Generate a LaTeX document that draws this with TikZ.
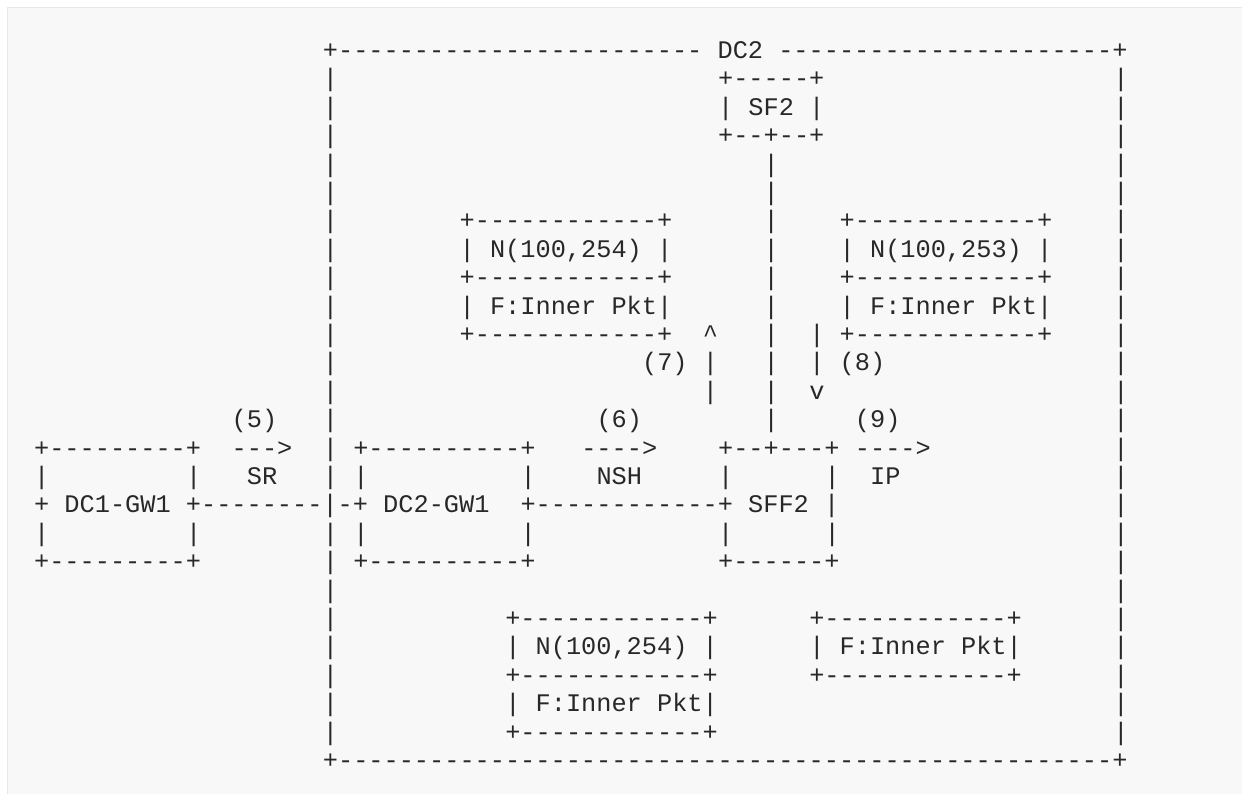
\documentclass[tikz,border=0pt]{standalone}
\usepackage{fontspec}
\setmonofont{Liberation Mono}
\definecolor{ink}{RGB}{40,40,40}
\definecolor{pagebg}{RGB}{248,248,248}
\definecolor{pageedge}{RGB}{232,232,232}
\newcommand\xo{41.7}
\newcommand\cw{15.2}
\newcommand\yo{58.5}
\newcommand\rh{28.4}
% \ch{row}{col}{text}: one run of characters on the character grid
\newcommand\ch[3]{\node[asc] (r#1c#2) at ({\xo+(#2-0.5)*\cw},{-(\yo+#1*\rh)}) {#3};}
\tikzset{
  asc/.style={anchor=base west, inner sep=0pt, outer sep=0pt, text=ink,
    font=\ttfamily\frenchspacing\fontsize{25.3}{28}\selectfont}
}
\begin{document}
\begin{tikzpicture}[x=1pt,y=1pt]
\useasboundingbox (0,0) rectangle (1242,-794);
\fill[white] (0,0) rectangle (1242,-794);
\filldraw[fill=pagebg, draw=pageedge, line width=1.5pt] (7.5,-7.5) rectangle (1260,-810);
% row 0
\ch{0}{19}{+------------------------ DC2 ----------------------+}
% rows 1-5
\ch{1}{19}{|}\ch{1}{45}{+-----+}\ch{1}{71}{|}
\ch{2}{19}{|}\ch{2}{45}{| SF2 |}\ch{2}{71}{|}
\ch{3}{19}{|}\ch{3}{45}{+--+--+}\ch{3}{71}{|}
\ch{4}{19}{|}\ch{4}{48}{|}\ch{4}{71}{|}
\ch{5}{19}{|}\ch{5}{48}{|}\ch{5}{71}{|}
% rows 6-10
\ch{6}{19}{|}\ch{6}{28}{+------------+}\ch{6}{48}{|}\ch{6}{53}{+------------+}\ch{6}{71}{|}
\ch{7}{19}{|}\ch{7}{28}{| N(100,254) |}\ch{7}{48}{|}\ch{7}{53}{| N(100,253) |}\ch{7}{71}{|}
\ch{8}{19}{|}\ch{8}{28}{+------------+}\ch{8}{48}{|}\ch{8}{53}{+------------+}\ch{8}{71}{|}
\ch{9}{19}{|}\ch{9}{28}{| F:Inner Pkt|}\ch{9}{48}{|}\ch{9}{53}{| F:Inner Pkt|}\ch{9}{71}{|}
\ch{10}{19}{|}\ch{10}{28}{+------------+}\ch{10}{44}{\textasciicircum}\ch{10}{48}{|}\ch{10}{51}{|}\ch{10}{53}{+------------+}\ch{10}{71}{|}
% rows 11-13
\ch{11}{19}{|}\ch{11}{40}{(7)}\ch{11}{44}{|}\ch{11}{48}{|}\ch{11}{51}{|}\ch{11}{53}{(8)}\ch{11}{71}{|}
\ch{12}{19}{|}\ch{12}{44}{|}\ch{12}{48}{|}\ch{12}{51}{v}\ch{12}{71}{|}
\ch{13}{13}{(5)}\ch{13}{19}{|}\ch{13}{37}{(6)}\ch{13}{48}{|}\ch{13}{54}{(9)}\ch{13}{71}{|}
% rows 14-18
\ch{14}{0}{+---------+}\ch{14}{13}{--->}\ch{14}{19}{|}\ch{14}{21}{+----------+}\ch{14}{36}{---->}\ch{14}{45}{+--+---+}\ch{14}{54}{---->}\ch{14}{71}{|}
\ch{15}{0}{|}\ch{15}{10}{|}\ch{15}{14}{SR}\ch{15}{19}{|}\ch{15}{21}{|}\ch{15}{32}{|}\ch{15}{37}{NSH}\ch{15}{45}{|}\ch{15}{52}{|}\ch{15}{55}{IP}\ch{15}{71}{|}
\ch{16}{0}{+ DC1-GW1 +--------|-+ DC2-GW1}\ch{16}{32}{+------------+ SFF2 |}\ch{16}{71}{|}
\ch{17}{0}{|}\ch{17}{10}{|}\ch{17}{19}{|}\ch{17}{21}{|}\ch{17}{32}{|}\ch{17}{45}{|}\ch{17}{52}{|}\ch{17}{71}{|}
\ch{18}{0}{+---------+}\ch{18}{19}{|}\ch{18}{21}{+----------+}\ch{18}{45}{+------+}\ch{18}{71}{|}
% rows 19-25
\ch{19}{19}{|}\ch{19}{71}{|}
\ch{20}{19}{|}\ch{20}{31}{+------------+}\ch{20}{51}{+------------+}\ch{20}{71}{|}
\ch{21}{19}{|}\ch{21}{31}{| N(100,254) |}\ch{21}{51}{| F:Inner Pkt|}\ch{21}{71}{|}
\ch{22}{19}{|}\ch{22}{31}{+------------+}\ch{22}{51}{+------------+}\ch{22}{71}{|}
\ch{23}{19}{|}\ch{23}{31}{| F:Inner Pkt|}\ch{23}{71}{|}
\ch{24}{19}{|}\ch{24}{31}{+------------+}\ch{24}{71}{|}
\ch{25}{19}{+---------------------------------------------------+}
\end{tikzpicture}
\end{document}
